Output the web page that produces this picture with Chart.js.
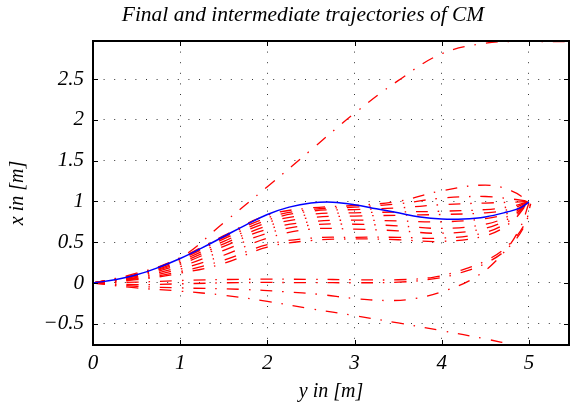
<!DOCTYPE html>
<html>
<head>
<meta charset="utf-8">
<title>Trajectories of CM</title>
<script src="https://cdn.jsdelivr.net/npm/chart.js@4.4.1/dist/chart.umd.min.js"></script>
<style>
  html, body { margin: 0; padding: 0; background: #fff; }
  canvas { display: block; }
</style>
</head>
<body>
<canvas id="cm-chart" width="570" height="405"></canvas>
<script>
// axis ticks
const xTicks = [0, 1, 2, 3, 4, 5];
const yTicks = [-0.5, 0, 0.5, 1, 1.5, 2, 2.5];

// final trajectory (blue)
const finalX = [0, 0.25, 0.5, 0.75, 1.0, 1.25, 1.5, 1.75, 2.0, 2.25, 2.5, 2.75, 3.0, 3.25, 3.5, 3.75, 4.0, 4.25, 4.5, 4.75, 4.9, 5.0];
const finalY = [0, 0.04, 0.10, 0.19, 0.30, 0.43, 0.57, 0.71, 0.84, 0.93, 0.98, 0.99, 0.96, 0.91, 0.86, 0.81, 0.785, 0.785, 0.81, 0.87, 0.92, 0.99];

// intermediate iterations sampled on a common y grid
const gridX = [0, 0.5, 1.0, 1.5, 2.0, 2.5, 3.0, 3.5, 4.0, 4.5, 4.8, 5.0];
const iterY = [
  [0, 0.11, 0.31, 0.58, 0.83, 0.92, 0.95, 1.00, 1.13, 1.20, 1.13, 1.0],
  [0, 0.10, 0.30, 0.56, 0.80, 0.90, 0.93, 0.97, 1.04, 1.06, 1.03, 1.0],
  [0, 0.10, 0.29, 0.54, 0.77, 0.88, 0.90, 0.92, 0.96, 0.98, 0.99, 1.0],
  [0, 0.09, 0.27, 0.51, 0.74, 0.84, 0.86, 0.87, 0.88, 0.90, 0.94, 1.0],
  [0, 0.09, 0.25, 0.48, 0.70, 0.80, 0.82, 0.83, 0.84, 0.86, 0.91, 1.0],
  [0, 0.08, 0.23, 0.45, 0.66, 0.75, 0.77, 0.76, 0.75, 0.79, 0.87, 1.0],
  [0, 0.07, 0.20, 0.40, 0.61, 0.71, 0.72, 0.70, 0.67, 0.72, 0.84, 1.0],
  [0, 0.06, 0.17, 0.34, 0.55, 0.66, 0.66, 0.64, 0.61, 0.67, 0.81, 1.0],
  [0, 0.05, 0.14, 0.28, 0.47, 0.55, 0.56, 0.56, 0.55, 0.62, 0.78, 1.0],
  [0, 0.04, 0.12, 0.24, 0.44, 0.52, 0.54, 0.53, 0.51, 0.58, 0.75, 1.0]
];

// iterations that stay near zero and then climb to the goal
const flatX = [0, 0.5, 1.0, 1.7, 2.5, 3.0, 3.5, 3.9, 4.2, 4.5, 4.75, 4.95, 5.02];
const flatY1 = [0, 0.01, 0.03, 0.045, 0.045, 0.04, 0.04, 0.07, 0.15, 0.27, 0.45, 0.72, 0.97];
const flatY2 = [0, -0.02, -0.01, 0.005, 0.005, 0.003, 0.01, 0.05, 0.12, 0.24, 0.42, 0.70, 0.97];
const dipX = [0, 0.5, 1.0, 1.7, 2.2, 2.6, 3.0, 3.4, 3.7, 4.05, 4.4, 4.7, 4.9, 5.0];
const dipY = [0, -0.04, -0.06, -0.078, -0.107, -0.14, -0.19, -0.215, -0.19, -0.09, 0.08, 0.36, 0.68, 0.98];

// first iterations, running off the plot
const upX = [0, 0.5, 1.0, 1.5, 2.0, 2.5, 3.0, 3.5, 4.0, 4.5, 4.8, 5.1, 5.5];
const upY = [0, 0.12, 0.31, 0.74, 1.18, 1.63, 2.08, 2.48, 2.81, 2.94, 2.96, 2.96, 2.96];
const downX = [0, 0.5, 1.0, 1.5, 2.0, 2.5, 3.0, 3.5, 4.0, 4.5, 4.85];
const downY = [0, -0.06, -0.10, -0.15, -0.225, -0.315, -0.40, -0.49, -0.585, -0.685, -0.765];

const titleText = 'Final and intermediate trajectories of CM';
const serif = '"Liberation Serif", "Times New Roman", serif';

const toPoints = (xs, ys) => xs.map((v, i) => ({ x: v, y: ys[i] }));

const redLine = (xs, ys) => ({
  data: toPoints(xs, ys),
  borderColor: '#ff0000',
  borderWidth: 1.3,
  borderDash: [12, 10, 1.5, 10],
  pointRadius: 0,
  showLine: true,
  tension: 0.4
});

const datasets = [
  {
    data: toPoints(finalX, finalY),
    borderColor: '#0000ff',
    borderWidth: 1.5,
    pointRadius: 0,
    showLine: true,
    tension: 0.4
  },
  redLine(upX, upY),
  redLine(downX, downY),
  redLine(flatX, flatY1),
  redLine(flatX, flatY2),
  redLine(dipX, dipY),
  ...iterY.map(ys => redLine(gridX, ys))
];

// box, inward ticks on all four sides, and the title
const framePlugin = {
  id: 'frame',
  afterDraw(chart) {
    const { ctx, chartArea: a, scales: { x, y } } = chart;
    ctx.save();
    ctx.strokeStyle = '#000';
    ctx.lineWidth = 1;
    ctx.beginPath();
    xTicks.forEach(v => {
      const px = Math.round(x.getPixelForValue(v)) + 0.5;
      ctx.moveTo(px, a.bottom); ctx.lineTo(px, a.bottom - 5);
      ctx.moveTo(px, a.top); ctx.lineTo(px, a.top + 5);
    });
    yTicks.forEach(v => {
      const py = Math.round(y.getPixelForValue(v)) + 0.5;
      ctx.moveTo(a.left, py); ctx.lineTo(a.left + 5, py);
      ctx.moveTo(a.right, py); ctx.lineTo(a.right - 5, py);
    });
    ctx.stroke();
    ctx.lineWidth = 2;
    ctx.strokeRect(a.left, a.top, a.right - a.left, a.bottom - a.top);

    ctx.fillStyle = '#000';
    ctx.font = 'italic 21.5px ' + serif;
    ctx.textAlign = 'center';
    ctx.textBaseline = 'middle';
    ctx.fillText(titleText, 303, 15);
    ctx.restore();
  }
};

const tickFont = { family: serif, size: 21, style: 'italic' };
const titleFont = { family: serif, size: 20, style: 'italic' };

new Chart(document.getElementById('cm-chart'), {
  type: 'scatter',
  data: { datasets },
  options: {
    responsive: false,
    animation: false,
    layout: { padding: { top: 41, right: 1, bottom: 0, left: 0 } },
    plugins: {
      legend: { display: false },
      tooltip: { enabled: false }
    },
    scales: {
      x: {
        type: 'linear',
        min: 0,
        max: 5.46,
        afterFit: s => { s.height = 60; },
        afterBuildTicks: s => { s.ticks = xTicks.map(v => ({ value: v })); },
        ticks: {
          color: '#000',
          font: tickFont,
          padding: 6,
          maxRotation: 0,
          callback: v => String(v)
        },
        grid: { color: 'rgba(0,0,0,0.8)', lineWidth: 1, drawTicks: false },
        border: { display: false, dash: [1, 9.6] },
        title: { display: true, text: 'y in [m]', color: '#000', font: titleFont, padding: { top: 0, bottom: 1 } }
      },
      y: {
        type: 'linear',
        min: -0.76,
        max: 2.966,
        afterFit: s => { s.width = 93; },
        afterBuildTicks: s => { s.ticks = yTicks.map(v => ({ value: v })); },
        ticks: {
          color: '#000',
          font: tickFont,
          padding: 9,
          callback: v => String(v).replace('-', '\u2212')
        },
        grid: { color: 'rgba(0,0,0,0.8)', lineWidth: 1, drawTicks: false },
        border: { display: false, dash: [1, 9.6] },
        title: { display: true, text: 'x in [m]', color: '#000', font: titleFont, padding: { top: 6, bottom: 0 } }
      }
    }
  },
  plugins: [framePlugin]
});
</script>
</body>
</html>
